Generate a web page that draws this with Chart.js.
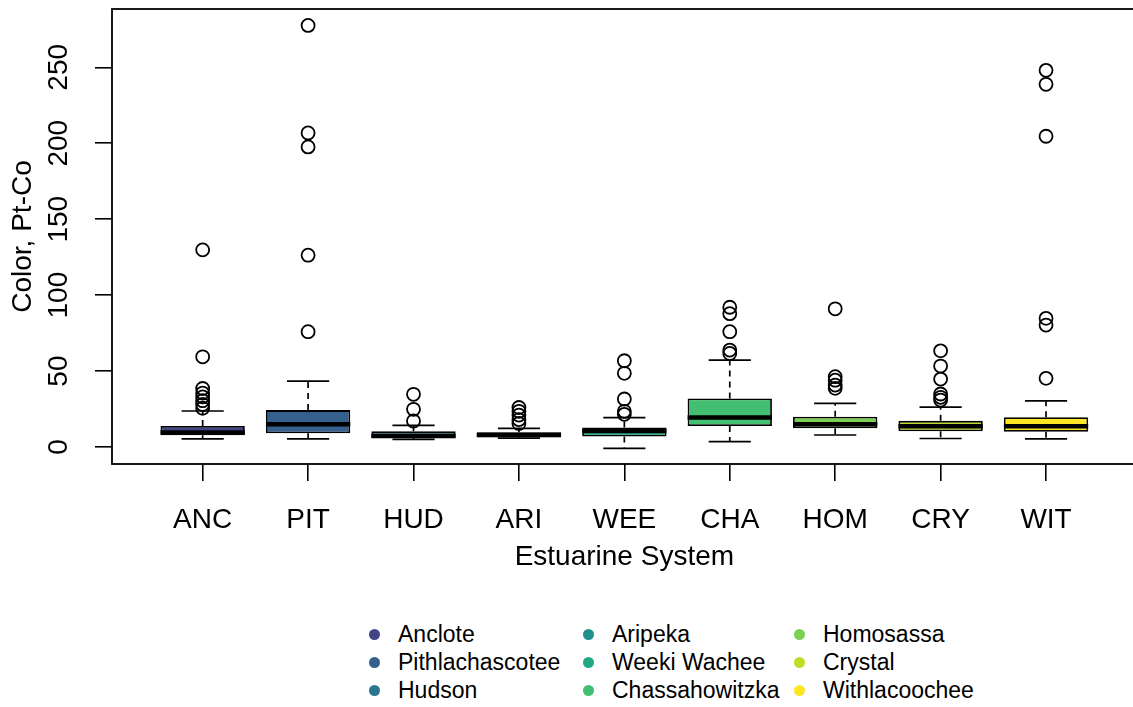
<!DOCTYPE html>
<html>
<head>
<meta charset="utf-8">
<script src="https://cdn.jsdelivr.net/npm/chart.js@4.4.1/dist/chart.umd.min.js"></script>
<style>
  html, body { margin: 0; padding: 0; background: #fff; overflow: hidden; }
  #wrap { position: relative; width: 1145px; height: 707px; }
  #c { position: absolute; left: 0; top: 0; }
  #legend {
    position: absolute; left: 369px; top: 620px;
    display: grid; grid-auto-flow: column;
    grid-template-rows: repeat(3, 28px);
    grid-template-columns: 214px 211px auto;
    font-family: "Liberation Sans", Arial, sans-serif; font-size: 23px; color: #000;
  }
  .item { display: flex; align-items: center; white-space: nowrap; }
  .dot { width: 11px; height: 11px; border-radius: 50%; margin-right: 18px; flex: none; }
</style>
</head>
<body>
<div id="wrap">
  <canvas id="c" width="1145" height="590"></canvas>
  <div id="legend"></div>
</div>
<script>
// ---- data ----
const categories = ["ANC", "PIT", "HUD", "ARI", "WEE", "CHA", "HOM", "CRY", "WIT"];
const systemNames = ["Anclote", "Pithlachascotee", "Hudson", "Aripeka", "Weeki Wachee",
                     "Chassahowitzka", "Homosassa", "Crystal", "Withlacoochee"];
const boxColors = ["#414487", "#35608D", "#2A788E", "#21908C", "#22A884",
                   "#43BF71", "#7AD151", "#BBDF27", "#FDE725"];
const whiskerLow  = [5.3, 5.3, 5.0, 5.8, -0.9, 3.5, 7.9, 5.6, 5.3];
const quartile1   = [7.7, 9.0, 6.1, 6.4, 6.9, 13.8, 12.3, 10.3, 10.0];
const medians     = [9.5, 14.9, 7.3, 7.9, 10.5, 19.5, 15.0, 13.7, 13.7];
const quartile3   = [13.8, 24.3, 10.3, 9.7, 12.9, 32.0, 19.9, 17.2, 19.6];
const whiskerHigh = [23.7, 43.4, 14.2, 12.3, 19.4, 57.2, 28.7, 26.2, 30.3];
const outliers = [
  [129.8, 59.4, 38.5, 35.5, 33.0, 30.5, 28.0, 25.5],
  [277.6, 206.8, 197.6, 126.3, 75.9],
  [34.7, 24.8, 17.1],
  [26.0, 23.5, 21.0, 18.0, 15.5],
  [56.8, 48.5, 31.6, 23.5, 21.5],
  [92.0, 87.8, 75.9, 63.8, 61.6],
  [91.0, 46.3, 44.0, 40.8, 38.6],
  [63.3, 53.3, 44.7, 34.9, 32.7, 30.9],
  [248.0, 238.8, 204.6, 84.7, 80.3, 45.2]
];
const yTickValues = [0, 50, 100, 150, 200, 250];
const yRange = [-11.2, 288.4];
const xRange = [0.14, 9.86];

// ---- legend (HTML) ----
const legendEl = document.getElementById('legend');
systemNames.forEach((n, i) => {
  const it = document.createElement('div');
  it.className = 'item';
  const d = document.createElement('span');
  d.className = 'dot';
  d.style.background = boxColors[i];
  it.appendChild(d);
  it.appendChild(document.createTextNode(n));
  legendEl.appendChild(it);
});

const FONT = "'Liberation Sans', Arial, sans-serif";

const boxPlugin = {
  id: 'boxParts',
  beforeDatasetsDraw(chart) {
    const {ctx, scales: {x, y}} = chart;
    const meta = chart.getDatasetMeta(0);
    ctx.save();
    ctx.strokeStyle = '#000';
    ctx.lineWidth = 1.7;
    categories.forEach((c, i) => {
      const bar = meta.data[i];
      const px = x.getPixelForValue(i + 1);
      const half = bar.width / 4;
      const pLo = y.getPixelForValue(whiskerLow[i]);
      const pHi = y.getPixelForValue(whiskerHigh[i]);
      const pQ1 = y.getPixelForValue(quartile1[i]);
      const pQ3 = y.getPixelForValue(quartile3[i]);
      ctx.setLineDash([6, 5]);
      ctx.beginPath();
      ctx.moveTo(px, pQ3); ctx.lineTo(px, pHi);
      ctx.moveTo(px, pQ1); ctx.lineTo(px, pLo);
      ctx.stroke();
      ctx.setLineDash([]);
      ctx.beginPath();
      ctx.moveTo(px - half, pHi); ctx.lineTo(px + half, pHi);
      ctx.moveTo(px - half, pLo); ctx.lineTo(px + half, pLo);
      ctx.stroke();
    });
    ctx.restore();
  },
  afterDatasetDraw(chart, args) {
    if (args.index !== 0) return;
    const {ctx, scales: {x, y}} = chart;
    const meta = chart.getDatasetMeta(0);
    ctx.save();
    ctx.strokeStyle = '#000';
    ctx.lineWidth = 4.5;
    ctx.lineCap = 'butt';
    categories.forEach((c, i) => {
      const bar = meta.data[i];
      const px = x.getPixelForValue(i + 1);
      const pm = y.getPixelForValue(medians[i]);
      ctx.beginPath();
      ctx.moveTo(px - bar.width / 2, pm);
      ctx.lineTo(px + bar.width / 2, pm);
      ctx.stroke();
    });
    ctx.restore();
  },
  afterDraw(chart) {
    const {ctx, chartArea: a} = chart;
    ctx.save();
    ctx.strokeStyle = '#000';
    ctx.lineWidth = 1.8;
    ctx.strokeRect(a.left, a.top, a.right - a.left, a.bottom - a.top);
    ctx.restore();
  }
};

const outlierPoints = [];
outliers.forEach((arr, i) => arr.forEach(v => outlierPoints.push({x: i + 1, y: v})));

new Chart(document.getElementById('c'), {
  type: 'bar',
  data: {
    datasets: [
      {
        type: 'bar',
        order: 2,
        data: categories.map((c, i) => ({x: i + 1, y: [quartile1[i], quartile3[i]]})),
        backgroundColor: boxColors,
        borderColor: '#000',
        borderWidth: 1.8,
        borderSkipped: false,
        barPercentage: 1.0,
        categoryPercentage: 0.8
      },
      {
        type: 'scatter',
        order: 1,
        data: outlierPoints,
        pointRadius: 6.5,
        pointBorderWidth: 1.8,
        pointBackgroundColor: 'rgba(0,0,0,0)',
        pointBorderColor: '#000'
      }
    ]
  },
  options: {
    responsive: false,
    animation: false,
    events: [],
    layout: { padding: { left: 0, top: 9, right: 4, bottom: 0 } },
    plugins: { legend: { display: false }, tooltip: { enabled: false } },
    scales: {
      x: {
        type: 'linear',
        offset: false,
        min: xRange[0], max: xRange[1],
        afterBuildTicks: s => { s.ticks = categories.map((c, i) => ({value: i + 1})); },
        afterFit: s => { s.height = 126; s.paddingLeft = 0; s.paddingRight = 0; },
        grid: { offset: false, drawOnChartArea: false, drawTicks: true, tickLength: 17, color: '#000', lineWidth: 1.6 },
        border: { display: false },
        ticks: {
          autoSkip: false, maxRotation: 0, minRotation: 0, padding: 22,
          color: '#000', font: { family: FONT, size: 28 },
          callback: v => categories[Math.round(v) - 1]
        },
        title: { display: true, text: 'Estuarine System', color: '#000',
                 font: { family: FONT, size: 28 }, padding: { top: 0, bottom: 16 } }
      },
      y: {
        type: 'linear',
        min: yRange[0], max: yRange[1],
        afterBuildTicks: s => { s.ticks = yTickValues.map(v => ({value: v})); },
        afterFit: s => { s.width = 112; s.paddingTop = 0; s.paddingBottom = 0; },
        grid: { drawOnChartArea: false, drawTicks: true, tickLength: 17, color: '#000', lineWidth: 1.6 },
        border: { display: false },
        ticks: {
          autoSkip: false, minRotation: 90, maxRotation: 90, crossAlign: 'center', padding: 12.6,
          color: '#000', font: { family: FONT, size: 28 }
        },
        title: { display: true, text: 'Color, Pt-Co', color: '#000',
                 font: { family: FONT, size: 28 }, padding: { top: 6.7, bottom: 0 } }
      }
    }
  },
  plugins: [boxPlugin]
});
</script>
</body>
</html>
